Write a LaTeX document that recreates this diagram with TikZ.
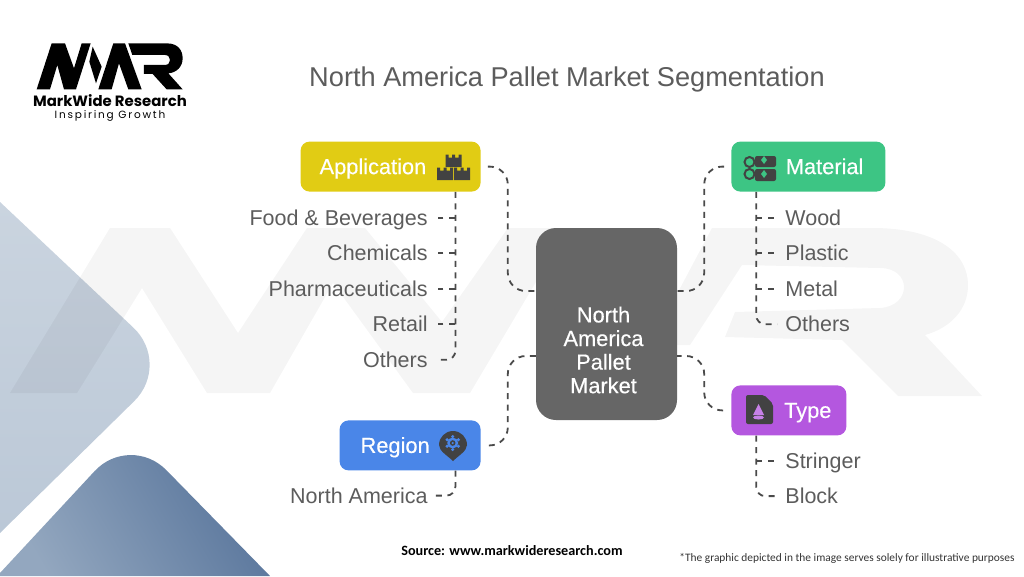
\documentclass[tikz,border=0pt]{standalone}
\usepackage{fontspec}
\setmainfont{Liberation Sans}
\newfontfamily\sourcefont{Carlito}
\newfontfamily\logofont{Poppins}
\newfontfamily\sloganfont{Poppins}[LetterSpace=17]
\newfontfamily\boxfont{Liberation Sans}[FakeBold=0.35]
\usetikzlibrary{
  positioning,
  calc
}
\definecolor{yellowFill}{HTML}{E1CC14}
\definecolor{greenFill}{HTML}{3DC584}
\definecolor{blueFill}{HTML}{4A86E8}
\definecolor{purpleFill}{HTML}{B457DF}
\definecolor{marketFill}{HTML}{666666}
\definecolor{iconDark}{HTML}{424242}
\definecolor{leafTxt}{HTML}{5C5C5C}
\definecolor{linkStroke}{HTML}{4A4A4A}
\definecolor{paleFrom}{HTML}{CAD4DF}
\definecolor{paleTo}{HTML}{BBC8D7}
\definecolor{deepFrom}{HTML}{93A7BF}
\definecolor{deepTo}{HTML}{56739A}
\tikzset{
  base/.style={
    rectangle, rounded corners=9pt,
    minimum height=50pt,
    inner ysep=0pt,
    text=white, text height=15pt, text depth=0pt,
    font=\boxfont\fontsize{21.8}{24}\selectfont
  },
  application node/.style={base, fill=yellowFill,
    inner xsep=19pt, text width=142pt, align=left},
  material node/.style={base, fill=greenFill,
    inner xsep=22pt, text width=110pt, align=right},
  region node/.style={base, fill=blueFill,
    inner xsep=21pt, text width=99pt, align=left},
  type node/.style={base, fill=purpleFill,
    inner xsep=15pt, text width=85pt, align=right},
  market node/.style={
    rectangle, rounded corners=20pt,
    minimum width=141pt, minimum height=192pt,
    fill=marketFill
  },
  market label/.style={
    inner sep=0pt, text=white, align=center,
    font=\boxfont\fontsize{21.8}{23.6}\selectfont
  },
  leaf/.style={
    inner sep=0pt, text=leafTxt,
    text height=15pt, text depth=0pt,
    font=\fontsize{21.5}{24}\selectfont
  },
  leaf left/.style={leaf, anchor=east},
  leaf right/.style={leaf, anchor=west},
  link/.style={draw=linkStroke, line width=1.8pt,
    dash pattern=on 6pt off 5.5pt},
  twig/.style={draw=linkStroke, line width=1.8pt,
    dash pattern=on 6pt off 6pt, shorten >=10pt},
}
\newcommand{\castle}[2]{%
  \fill[iconDark] (#1,#2) -- ++(0,-12.5) -- ++(3,0) -- ++(0,3) -- ++(3.5,0)
    -- ++(0,-3) -- ++(3,0) -- ++(0,3) -- ++(3.5,0) -- ++(0,-3) -- ++(3,0)
    -- ++(0,12.5) -- cycle;
}
\begin{document}
\begin{tikzpicture}[x=1pt, y=-1pt]
    \useasboundingbox (0,0) rectangle (1024,576);

    % Background
    \shade[top color=paleFrom, bottom color=paleTo]
      (0,202) [rounded corners=53pt] -- (172,364) [sharp corners] -- (0,533) -- cycle;
    \shade[left color=deepFrom, right color=deepTo, shading angle=120]
      (0,573) [rounded corners=52pt] -- (130,433) [sharp corners] -- (270,576) -- (0,576) -- cycle;
    \fill[black, opacity=0.04]
      (10,393) -- (110,228) -- (170,228) -- (238,333) -- (307,228) -- (365,228)
      -- (442,322) -- (508,228) -- (568,228) -- (470,393) -- (413,393) -- (333,283)
      -- (270,393) -- (207,393) -- (142,288) -- (77,393) -- cycle;
    \fill[black, opacity=0.04]
      (712,228) -- (872,228) .. controls (940,228) and (968,255) .. (968,285)
      .. controls (968,310) and (950,328) .. (925,335) -- (982,396) -- (898,396)
      -- (842,340) -- (725,337) -- (735,312) -- (880,308)
      .. controls (912,306) and (912,268) .. (880,268) -- (742,265) -- (690,345)
      -- (650,345) -- cycle;

    % Logo
    \begin{scope}[x=0.3333pt, y=-0.3333pt, shift={(0,60)}]
      \fill[black] (110,208) -- (155,70) -- (195,70) -- (222,145) -- (245,70) -- (272,70)
        -- (228,208) -- (192,208) -- (172,135) -- (150,208) -- cycle;
      \fill[black] (278,80) -- (305,140) -- (288,190) -- (268,125) -- cycle;
      \fill[black] (295,208) -- (340,70) -- (375,70) -- (425,208) -- (385,208)
        -- (357,130) -- (335,208) -- cycle;
      \fill[black] (385,70) -- (500,70) .. controls (535,70) and (548,92) .. (548,115)
        .. controls (548,140) and (530,158) .. (505,160) -- (548,208) -- (500,208)
        -- (458,162) -- (432,162) -- (432,135) -- (495,135)
        .. controls (515,135) and (515,105) .. (495,105) -- (397,105) -- cycle;
    \end{scope}
    \node[inner sep=0pt, text height=10pt, text depth=0pt, font=\logofont\bfseries\fontsize{14.9}{16}\selectfont] (logoName)
      at (110,101.5) {MarkWide Research};
    \node[inner sep=0pt, text height=7pt, text depth=0pt, font=\sloganfont\fontsize{10.5}{12}\selectfont] (logoSlogan)
      at (110,114.5) {Inspiring Growth};

    % Nodes
    \node[inner sep=0pt, text=leafTxt, font=\fontsize{27.2}{30}\selectfont] (title)
      at (567,79) {North America Pallet Market Segmentation};
    \node[market node] (market) at (606.5,324) {};
    \node[market label] (marketLabel) at ($(market.center)+(-3,26)$) {North\\America\\Pallet\\Market};
    \node[application node, above left=36pt and 55pt of market] (application) {Application};
    \node[material node, above right=36pt and 54pt of market] (material) {Material};
    \node[region node, below left=0pt and 55pt of market] (region) {Region};
    \node[type node, below right=-35pt and 54pt of market] (type) {Type};

    \node[leaf left, below=26pt of application.south east, xshift=-53pt, anchor=east] (food) {Food \& Beverages};
    \node[leaf left, below=35.5pt of food.east, anchor=east] (chemicals) {Chemicals};
    \node[leaf left, below=35.5pt of chemicals.east, anchor=east] (pharma) {Pharmaceuticals};
    \node[leaf left, below=35.5pt of pharma.east, anchor=east] (retail) {Retail};
    \node[leaf left, below=35.5pt of retail.east, anchor=east] (othersApp) {Others};
    \node[leaf left, below=25pt of region.south east, xshift=-53pt, anchor=east] (northAmerica) {North America};

    \node[leaf right, below=26pt of material.south west, xshift=54pt, anchor=west] (wood) {Wood};
    \node[leaf right, below=35.5pt of wood.west, anchor=west] (plastic) {Plastic};
    \node[leaf right, below=35.5pt of plastic.west, anchor=west] (metal) {Metal};
    \node[leaf right, below=35.5pt of metal.west, anchor=west] (othersMat) {Others};
    \node[leaf right, below=25pt of type.south west, xshift=54pt, anchor=west] (stringer) {Stringer};
    \node[leaf right, below=35.5pt of stringer.west, anchor=west] (block) {Block};

    \node[inner sep=0pt, font=\sourcefont\bfseries\fontsize{14.2}{16}\selectfont] (source)
      at (512,551) {Source: www.markwideresearch.com};
    \node[inner sep=0pt, text=black!80, font=\sourcefont\fontsize{11.4}{14}\selectfont] (note)
      at (847,558) {*The graphic depicted in the image serves solely for illustrative purposes};

    % Icons
    \castle{445.5}{167}
    \castle{437}{180}
    \castle{454}{180}
    \fill[iconDark, rounded corners=2pt] (755,156) rectangle (776,167);
    \fill[iconDark, rounded corners=2pt] (755,169) rectangle (776,181);
    \fill[greenFill] (764,156) -- (767,160) -- (764,164) -- (761,160) -- cycle;
    \fill[greenFill] (764,170) -- (767,174) -- (764,178) -- (761,174) -- cycle;
    \draw[iconDark, line width=2pt] (749.5,162) circle (5);
    \draw[iconDark, line width=2pt] (749.5,174) circle (5);
    \fill[iconDark] (439,445) arc[start angle=180, end angle=360, radius=14]
      .. controls (467,451) and (458,456) .. (453,461)
      .. controls (448,456) and (439,451) .. (439,445) -- cycle;
    \foreach \a in {30,90,...,330}
      \fill[blueFill] (452.7,443) ++(\a:6.5) circle (1.7);
    \fill[blueFill] (452.7,443) circle (5.5);
    \fill[iconDark] (452.7,443) circle (2.8);
    \fill[blueFill] (452.7,443) circle (1.2);
    \fill[iconDark, rounded corners=2pt] (746,395) -- (764,395) -- (773,404) -- (773,424) -- (746,424) -- cycle;
    \fill[purpleFill!75!white] (758.5,404) -- (764,415) -- (753,415) -- cycle;
    \fill[purpleFill!75!white] (758.5,417.5) ellipse (5.5 and 2);

    % Arrows
    \coordinate (marketNW) at ($(market.west)+(0,-33)$);
    \coordinate (marketSW) at ($(market.west)+(0,32)$);
    \coordinate (marketNE) at ($(market.east)+(0,-33)$);
    \coordinate (marketSE) at ($(market.east)+(0,32)$);
    \coordinate (appTrunk) at ($(application.south east)+(27,0)$);
    \coordinate (regTrunk) at ($(region.south east)+(27,0)$);
    \coordinate (matTrunk) at ($(material.south west)+(-27,0)$);
    \coordinate (typTrunk) at ($(type.south west)+(-27,0)$);
    \draw[link, rounded corners=18pt, shorten <=7pt] (application.east) -| (appTrunk |- marketNW) -- (marketNW);
    \draw[link, rounded corners=18pt, shorten <=8pt] (region.east) -| (regTrunk |- marketSW) -- (marketSW);
    \draw[link, rounded corners=18pt, shorten <=7pt] (material.west) -| (matTrunk |- marketNE) -- (marketNE);
    \draw[link, rounded corners=18pt, shorten <=8pt] (type.west) -| (typTrunk |- marketSE) -- (marketSE);

    \coordinate (appBus) at ($(application.south west)+(155,0)$);
    \coordinate (regBus) at ($(region.south west)+(116,0)$);
    \coordinate (matBus) at ($(material.south west)+(25,0)$);
    \coordinate (typBus) at ($(type.south west)+(25,0)$);
    \foreach \leafname in {food,chemicals,pharma,retail}
      \draw[twig] (appBus |- \leafname.east) -- (\leafname.east);
    \foreach \leafname in {wood,plastic,metal}
      \draw[twig] (matBus |- \leafname.west) -- (\leafname.west);
    \draw[twig] (typBus |- stringer.west) -- (stringer.west);
    \draw[link, rounded corners=9pt, shorten >=8pt] (appBus) |- (othersApp.east);
    \draw[link, rounded corners=9pt, shorten >=8pt] (regBus) |- (northAmerica.east);
    \draw[link, rounded corners=9pt, shorten >=8pt] (matBus) |- (othersMat.west);
    \draw[link, rounded corners=9pt, shorten >=8pt] (typBus) |- (block.west);
\end{tikzpicture}
\end{document}
